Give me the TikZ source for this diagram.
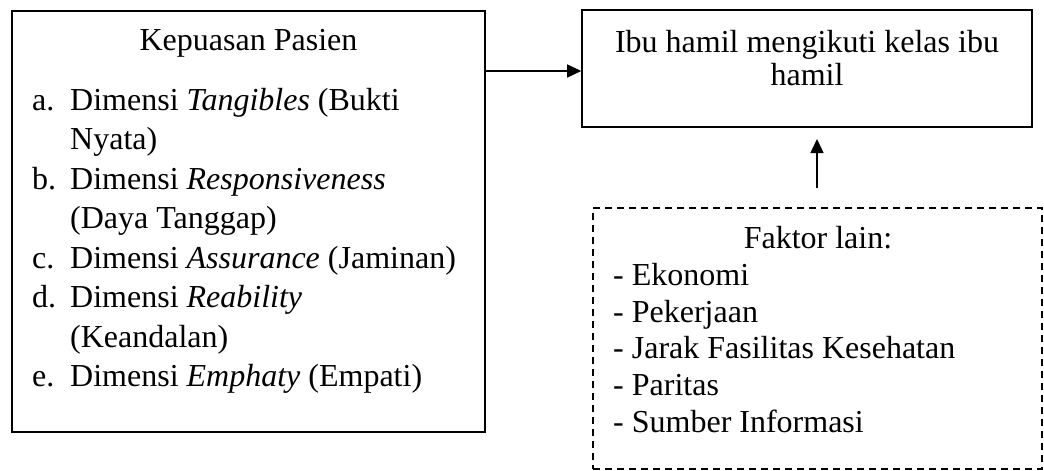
\documentclass[tikz,border=0pt]{standalone}
\usepackage{fontspec}
\setmainfont{Liberation Serif}
\usetikzlibrary{arrows.meta}
\begin{document}
\begin{tikzpicture}[x=1pt,y=-1pt,
  box/.style={draw, line width=1.6pt, inner sep=0pt},
  dbox/.style={draw, line width=1.6pt, inner sep=0pt, dash pattern=on 7pt off 5pt},
  txt/.style={inner sep=0pt, anchor=base west, font=\fontsize{32}{38}\selectfont},
  ctxt/.style={inner sep=0pt, anchor=base, font=\fontsize{32}{38}\selectfont},
  arr/.style={line width=1.4pt, -{Triangle[length=14pt,width=13pt]}}]
\useasboundingbox (0,0) rectangle (1044,471);
% boxes
\node[box, minimum width=473pt, minimum height=421pt] (kp) at (248.5,221.5) {};
\node[box, minimum width=450pt, minimum height=117pt] (ibu) at (807,68.5) {};
\node[dbox, minimum width=449pt, minimum height=261pt] (fl) at (817.5,338.5) {};
% left box text
\node[ctxt] (kpt) at (248.5,50) {Kepuasan Pasien};
\node[txt] (la) at (32,110) {a.};
\node[txt] (ta) at (70,110) {Dimensi \textit{Tangibles} (Bukti};
\node[txt] (ta2) at (70,149.5) {Nyata)};
\node[txt] (lb) at (32,189) {b.};
\node[txt] (tb) at (70,189) {Dimensi \textit{Responsiveness}};
\node[txt] (tb2) at (70,228.5) {(Daya Tanggap)};
\node[txt] (lc) at (32,268) {c.};
\node[txt] (tc) at (70,268) {Dimensi \textit{Assurance} (Jaminan)};
\node[txt] (ld) at (32,307.5) {d.};
\node[txt] (td) at (70,307.5) {Dimensi \textit{Reability}};
\node[txt] (td2) at (70,347) {(Keandalan)};
\node[txt] (le) at (32,386.5) {e.};
\node[txt] (te) at (70,386.5) {Dimensi \textit{Emphaty} (Empati)};
% right box text
\node[ctxt] (ibu1) at (807,52) {Ibu hamil mengikuti kelas ibu};
\node[ctxt] (ibu2) at (807,85) {hamil};
% dashed box text
\node[ctxt] (flt) at (818,248) {Faktor lain:};
\node[txt] (f1) at (613,285) {- Ekonomi};
\node[txt] (f2) at (613,322) {- Pekerjaan};
\node[txt] (f3) at (613,358.5) {- Jarak Fasilitas Kesehatan};
\node[txt] (f4) at (613,395.5) {- Paritas};
\node[txt] (f5) at (613,432) {- Sumber Informasi};
% connectors
\coordinate (h) at (0,71);
\draw[arr] (kp.east |- h) -- (ibu.west |- h);
\coordinate (vs) at (817,188);
\coordinate (ve) at (817,139);
\draw[arr] (vs) -- (ve);
\end{tikzpicture}
\end{document}
